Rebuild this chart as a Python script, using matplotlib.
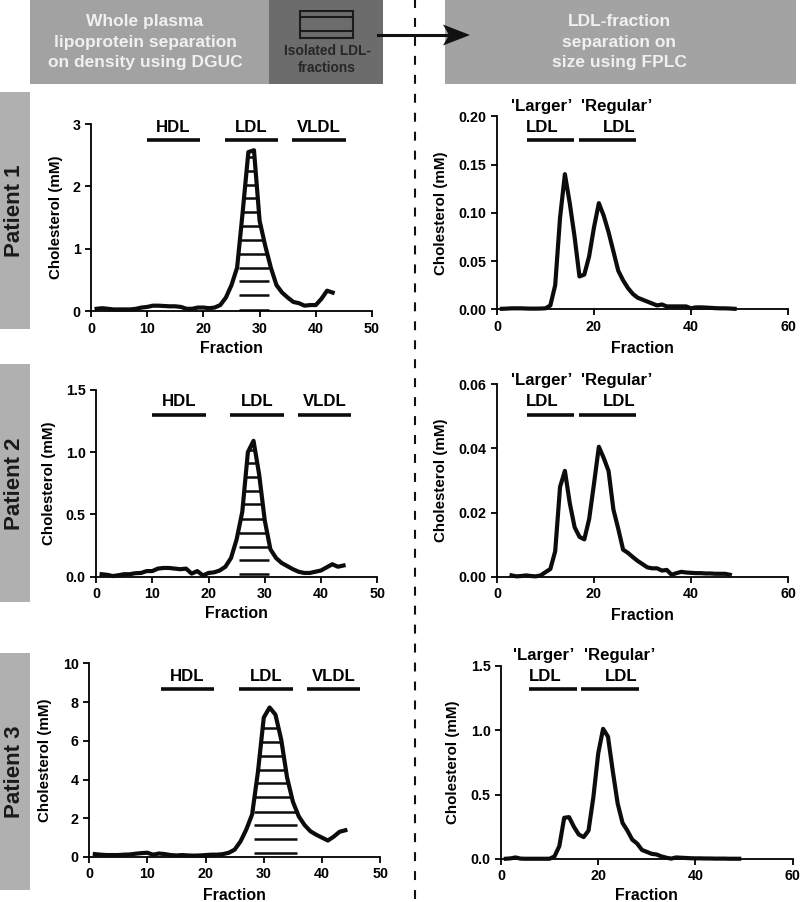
import matplotlib
matplotlib.use("Agg")
import matplotlib.pyplot as plt
from matplotlib.patches import Rectangle, Polygon
import numpy as np

plt.rcParams['font.family'] = ['Liberation Sans', 'DejaVu Sans']
plt.rcParams['font.weight'] = 'bold'

W, H = 800, 902

# density gradient profiles (whole plasma)
p1_left_x = list(range(1, 44))
p1_left_y = [.04, .05, .04, .03, .03, .03, .03, .04, .06, .07, .09, .09, .085, .08, .08, .07, .04, .04, .06, .06,
             .05, .06, .10, .22, .42, .70, 1.6, 2.55, 2.58, 1.45, 1.05, .70, .42, .30, .22, .15, .13, .09, .10, .10,
             .20, .33, .30]
p2_left_x = list(range(1, 45))
p2_left_y = [.02, .015, .005, .012, .02, .02, .028, .03, .045, .045, .065, .07, .07, .065, .06, .065, .025, .045,
             .01, .03, .035, .05, .08, .15, .30, .52, 1.0, 1.09, .82, .45, .22, .15, .11, .085, .06, .04, .03, .03,
             .04, .05, .075, .10, .08, .09]
p3_left_x = list(range(1, 45))
p3_left_y = [.15, .12, .10, .10, .10, .12, .13, .17, .20, .22, .12, .18, .15, .10, .08, .10, .08, .07, .08, .10,
             .12, .12, .15, .22, .38, .80, 1.42, 2.2, 4.4, 7.2, 7.72, 7.35, 6.05, 4.1, 2.85, 2.1, 1.65, 1.33, 1.15,
             1.0, .85, 1.05, 1.3, 1.38]

# size exclusion profiles (LDL fraction)
p1_right_x = list(range(1, 50))
p1_right_y = [.0005, .0007, .001, .001, .001, .0008, .0007, .0007, .0008, .001, .004, .025, .095, .14, .11, .075,
              .034, .036, .055, .085, .11, .097, .08, .06, .04, .03, .022, .016, .012, .01, .008, .006, .004, .005,
              .003, .003, .003, .003, .003, .001, .002, .002, .0018, .0015, .0012, .001, .001, .0008, .0005]
p2_right_x = list(range(3, 49))
p2_right_y = [.0005, .0002, .0003, .0005, .0003, .0002, .0005, .0015, .0025, .008, .028, .033, .023, .0155, .0125,
              .0117, .018, .029, .0405, .037, .033, .021, .015, .0085, .0075, .0062, .005, .004, .003, .0027, .0027,
              .002, .0022, .0007, .0012, .0016, .0014, .0013, .0012, .0012, .0011, .0011, .001, .001, .001, .0007]
p3_right_x = list(range(1, 50))
p3_right_y = [.002, .005, .012, .003, .002, .002, .002, .002, .002, .002, .02, .10, .32, .325, .25, .19, .17, .22,
              .48, .82, 1.01, .95, .68, .43, .28, .22, .15, .12, .07, .055, .04, .035, .02, .01, .003, .012, .01,
              .008, .006, .005, .005, .004, .004, .003, .003, .003, .002, .002, .002]

# collected LDL fractions, drawn as lines clipped to the peak
p1_levels = [.02, .26, .48, .70, .92, 1.15, 1.37, 1.59, 1.81, 2.03, 2.25, 2.47]
p2_levels = [.02, .13, .24, .35, .465, .58, .69, .80, .91, 1.02]
p3_levels = [.19, .91, 1.64, 2.34, 3.08, 3.8, 4.49, 5.2, 5.94, 6.66]

left_names = ["HDL", "LDL", "VLDL"]
right_names = ["'Larger’\nLDL", "'Regular’\nLDL"]

panels = [
    dict(x=p1_left_x, y=p1_left_y, box=(91, 372, 124, 311.3), xmax=50, yticks=[0, 1, 2, 3],
         ylabels=["0", "1", "2", "3"], off=28, levels=p1_levels, span=(26.3, 31.7),
         bars=[(9.9, 19.4), (23.8, 33.3), (35.8, 45.3)], bar_y=2.74, pad=4),
    dict(x=p1_right_x, y=p1_right_y, box=(497, 788, 116.3, 309.3), xmax=60, yticks=[0, .05, .10, .15, .20],
         ylabels=["0.00", "0.05", "0.10", "0.15", "0.20"], off=49, levels=None, span=None,
         bars=[(6.1, 15.9), (16.85, 28.6)], bar_y=.175, pad=5.5),
    dict(x=p2_left_x, y=p2_left_y, box=(96, 377.3, 389.7, 576.7), xmax=50, yticks=[0, .5, 1, 1.5],
         ylabels=["0.0", "0.5", "1.0", "1.5"], off=40, levels=p2_levels, span=(25.4, 30.7),
         bars=[(10, 19.5), (23.9, 33.5), (35.9, 45.4)], bar_y=1.297, pad=3.3),
    dict(x=p2_right_x, y=p2_right_y, box=(497, 788, 384, 577), xmax=60, yticks=[0, .02, .04, .06],
         ylabels=["0.00", "0.02", "0.04", "0.06"], off=49, levels=None, span=None,
         bars=[(6.1, 15.9), (16.85, 28.6)], bar_y=.0504, pad=4.7),
    dict(x=p3_left_x, y=p3_left_y, box=(89, 380.3, 663.3, 857), xmax=50, yticks=[0, 2, 4, 6, 8, 10],
         ylabels=["0", "2", "4", "6", "8", "10"], off=37, levels=p3_levels, span=(28.3, 35.75),
         bars=[(12.3, 21.5), (25.8, 35), (37.4, 46.6)], bar_y=8.66, pad=4.7),
    dict(x=p3_right_x, y=p3_right_y, box=(501, 792.7, 665.7, 859), xmax=60, yticks=[0, .5, 1, 1.5],
         ylabels=["0.0", "0.5", "1.0", "1.5"], off=41, levels=None, span=None,
         bars=[(5.83, 15.6), (16.5, 28.3)], bar_y=1.316, pad=3),
]

fig = plt.figure(figsize=(W / 100, H / 100), dpi=100)

# background layer in pixel coordinates
bg = fig.add_axes([0, 0, 1, 1])
bg.set_xlim(0, W)
bg.set_ylim(H, 0)
bg.axis('off')

bg.add_patch(Rectangle((30, 0), 239, 83.5, color="#a2a2a2", lw=0))
bg.add_patch(Rectangle((269, 0), 114, 83.5, color="#6c6c6c", lw=0))
bg.add_patch(Rectangle((445, 0), 351, 83.5, color="#a3a3a3", lw=0))
bg.add_patch(Rectangle((299.5, 10.5), 53, 27, fill=False, ec="#1c1c1c", lw=1.5))
bg.plot([299.5, 352.5], [16.5, 16.5], color="#1c1c1c", lw=1.5)
bg.plot([299.5, 352.5], [31, 31], color="#1c1c1c", lw=1.5)

bg.text(145, 42, "Whole plasma\nlipoprotein separation\non density using DGUC", color="#f0f0f0",
        fontsize=12.5, ha="center", va="center", linespacing=1.45)
bg.text(327, 59.5, "Isolated LDL-\nfractions", color="#262626", fontsize=9.9, ha="center", va="center",
        linespacing=1.3)
bg.text(619, 42, "LDL-fraction\nseparation on\nsize using FPLC", color="#f0f0f0",
        fontsize=12.5, ha="center", va="center", linespacing=1.45)

for top, bottom, name in [(92, 329, "Patient 1"), (364, 602, "Patient 2"), (653, 890, "Patient 3")]:
    bg.add_patch(Rectangle((0, top), 30, bottom - top, color="#b0b0b0", lw=0))
    bg.text(15, (top + bottom) / 2 + 0.5, name, rotation=90, color="#1a1a1a", fontsize=16,
            ha="center", va="center")

# dashed divider and arrow
bg.plot([415, 415], [-4, H], color="#111111", lw=1.5, dashes=(4.3, 4.8))
bg.plot([378, 450], [35, 35], color="#111111", lw=2.2)
bg.add_patch(Polygon([[443, 24.5], [470, 35], [443, 45.5], [449, 35]], color="#111111", lw=0))

for p in panels:
    left, right, top, bottom = p["box"]
    ax = fig.add_axes([left / W, 1 - bottom / H, (right - left) / W, (bottom - top) / H])
    ax.patch.set_alpha(0)
    ax.set_xlim(0, p["xmax"])
    ax.set_ylim(0, p["yticks"][-1])

    for side in ["top", "right"]:
        ax.spines[side].set_visible(False)
    for side in ["left", "bottom"]:
        ax.spines[side].set_linewidth(1.3)

    ax.set_xticks(range(0, p["xmax"] + 1, 10 if p["xmax"] == 50 else 20))
    ax.set_yticks(p["yticks"])
    ax.set_yticklabels(p["ylabels"])
    ax.tick_params(length=4.5, width=1.3, labelsize=10.3, pad=3)

    ax.plot(p["x"], p["y"], color="#0c0c0c", lw=3, solid_joinstyle="round", clip_on=False, zorder=3)

    if p["levels"] is not None:
        # polygon closed down to the axis so the lowest lines survive
        outline = Polygon(np.vstack([[p["x"][0], 0], np.column_stack([p["x"], p["y"]]), [p["x"][-1], 0]]),
                          closed=True, transform=ax.transData, fill=False, lw=0)
        ax.add_patch(outline)
        for level in p["levels"]:
            line, = ax.plot(p["span"], [level, level], color="#0c0c0c", lw=1.8, zorder=2, solid_capstyle="butt")
            line.set_clip_path(outline)

    names = left_names if p["xmax"] == 50 else right_names
    for (x0, x1), name in zip(p["bars"], names):
        ax.plot([x0, x1], [p["bar_y"], p["bar_y"]], color="#0c0c0c", lw=2.6, clip_on=False,
                solid_capstyle="butt")
        if p["xmax"] == 50:
            ax.annotate(name, ((x0 + x1) / 2, p["bar_y"]), xytext=(0, 4), textcoords="offset points",
                        ha="center", va="bottom", fontsize=12.1, annotation_clip=False)
        else:
            first, second = name.split("\n")
            ax.annotate(second, (x0 + 3.3 if x0 < 10 else x1 - 3.5, p["bar_y"]), xytext=(0, 4),
                        textcoords="offset points", ha="center", va="bottom", fontsize=12.1,
                        annotation_clip=False)
            ax.annotate(first, (x0 + 3 if x0 < 10 else x0 + 7.8, p["bar_y"]), xytext=(0, 19),
                        textcoords="offset points", ha="center", va="bottom", fontsize=12.1,
                        annotation_clip=False)

    ax.set_xlabel("Fraction", fontsize=11.4, fontweight="bold", labelpad=p["pad"])
    ax.set_ylabel("Cholesterol (mM)", fontsize=10.9, fontweight="bold")
    ax.yaxis.set_label_coords(-p["off"] / (right - left), 0.5)

fig.savefig("out.png", dpi=100)
